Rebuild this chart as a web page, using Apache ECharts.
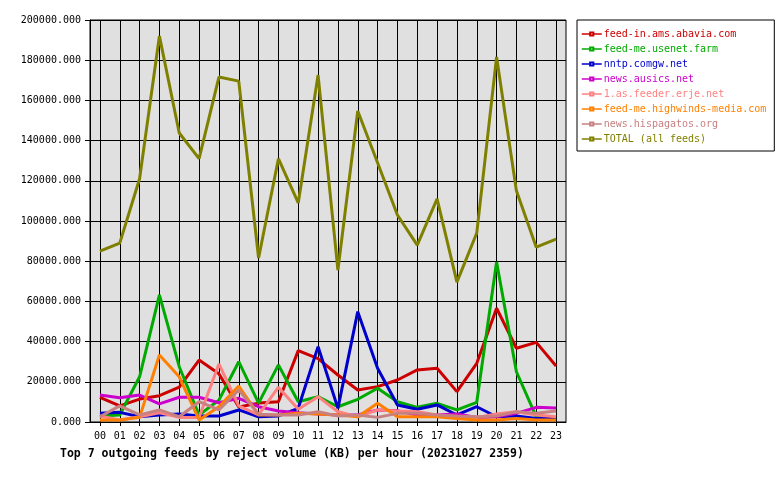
<!DOCTYPE html>
<html><head><meta charset="utf-8">
<script src="https://cdn.jsdelivr.net/npm/echarts@6/dist/echarts.min.js"></script>
<style>html,body{margin:0;padding:0;background:#fff}#c{width:780px;height:480px}</style>
</head><body><div id="c"></div>
<script>
const hours = ['00','01','02','03','04','05','06','07','08','09','10','11','12','13','14','15','16','17','18','19','20','21','22','23'];
const yTicks = [0,20000,40000,60000,80000,100000,120000,140000,160000,180000,200000];
const names = ['feed-in.ams.abavia.com','feed-me.usenet.farm','nntp.comgw.net','news.ausics.net','1.as.feeder.erje.net','feed-me.highwinds-media.com','news.hispagatos.org','TOTAL (all feeds)'];
const colors = ['#cc0000','#00aa00','#0000cc','#cc00cc','#ff8080','#ff8000','#c88080','#808000'];
const abavia   = [12300,8000,11400,13100,17400,30800,24000,7500,9400,10100,35500,31500,23400,15900,17600,20900,25900,26700,15100,29200,56600,36700,39600,27900];
const usenet   = [3000,3500,22500,63200,27500,3500,10900,30000,9400,28400,10100,12600,7600,11300,16800,10100,7300,9300,6000,9800,79600,25000,2600,1500];
const comgw    = [4300,4800,2600,3500,4000,3000,3000,6000,2600,3000,6800,37500,6800,54900,26700,8500,6300,8500,3500,7600,2600,3000,1800,2000];
const ausics   = [13400,12100,13400,9000,12300,12300,9600,11800,7600,5500,4600,4000,3500,3500,6000,5600,3500,3500,4000,2300,2600,4300,7300,7000];
const erje     = [3000,1000,2600,4600,2300,2300,28900,8000,3500,17300,6300,12600,5100,2600,6000,5500,5100,3500,2600,2300,4000,5100,3500,2600];
const highwinds= [1000,1000,2300,33300,22500,1000,7600,17900,3500,3500,4300,4000,3500,2600,9300,2600,2600,2600,1800,1000,1000,1800,1000,1000];
const hispagatos=[2600,8000,3500,6000,2600,10100,6000,15900,3800,3500,3500,5100,3000,3500,2300,4300,4300,3500,3000,2600,3000,5100,4300,5500];
const total    = [85000,89000,121000,192000,143800,131000,171600,169600,81600,131000,109000,172600,75600,154700,129000,103000,88000,111000,69600,94000,181600,115000,87000,91000];
const seriesData = [abavia,usenet,comgw,ausics,erje,highwinds,hispagatos,total];

const font = 'DejaVu Sans Mono';
const chart = echarts.init(document.getElementById('c'), null, {renderer:'canvas'});
chart.setOption({
  animation:false,
  backgroundColor:'#ffffff',
  title:{text:'Top 7 outgoing feeds by reject volume (KB) per hour (20231027 2359)',left:55,top:443,
    textStyle:{fontFamily:font,fontSize:11.5,fontWeight:'bold',color:'#000'}},
  legend:{orient:'vertical',left:577,top:20,width:196,
    padding:[8,8,6,4],itemGap:3,itemWidth:20,itemHeight:4,
    borderColor:'#000',borderWidth:1,backgroundColor:'#fff',
    lineStyle:{width:1.5},itemStyle:{borderWidth:1},
    data:names.map((n,i)=>({name:n,textStyle:{color:colors[i]}})),
    textStyle:{fontFamily:font,fontSize:10,lineHeight:12,padding:[0,0,0,-3]}},
  grid:{left:90,top:20,right:214,bottom:58,show:true,backgroundColor:'#e0e0e0',borderColor:'#000',borderWidth:1},
  xAxis:{type:'category',data:hours,boundaryGap:true,
    axisLine:{lineStyle:{color:'#000'}},
    axisTick:{show:true,alignWithLabel:true,length:4,lineStyle:{color:'#000'}},
    splitLine:{show:true,alignWithLabel:true,lineStyle:{color:'#000',width:1}},
    axisLabel:{fontFamily:font,fontSize:10,color:'#000',margin:9,interval:0}},
  yAxis:{type:'value',min:yTicks[0],max:yTicks[yTicks.length-1],interval:yTicks[1]-yTicks[0],
    axisLine:{show:true,lineStyle:{color:'#000'}},
    axisTick:{show:true,length:5,lineStyle:{color:'#000'}},
    splitLine:{show:true,lineStyle:{color:'#000',width:1}},
    axisLabel:{fontFamily:font,fontSize:10,color:'#000',margin:9,formatter:v=>v.toFixed(3)}},
  series:names.map((n,i)=>({name:n,type:'line',data:seriesData[i],color:colors[i],
    symbol:'emptyRect',symbolSize:4,showSymbol:false,
    lineStyle:{width:3,color:colors[i]},itemStyle:{color:colors[i]},z:2+i}))
});
</script></body></html>
